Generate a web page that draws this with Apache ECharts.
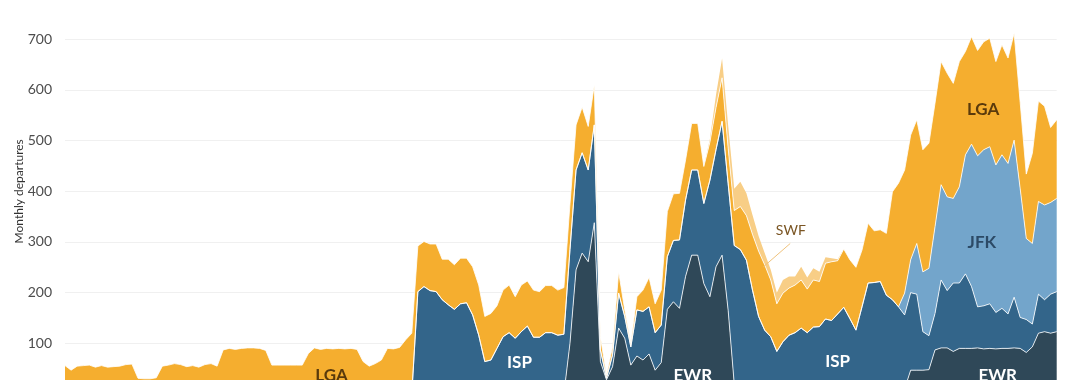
<!DOCTYPE html>
<html><head><meta charset="utf-8">
<script src="https://cdn.jsdelivr.net/npm/echarts@6/dist/echarts.min.js"></script>
<style>html,body{margin:0;padding:0;background:#fff}#c{width:1080px;height:380px}</style>
</head><body><div id="c"></div>
<script>
// monthly departures per destination airport (164 months)
const EWR = [0,0,0,0,0,0,0,0,0,0, 0,0,0,0,0,0,0,0,0,0, 0,0,0,0,0,0,0,0,0,0, 0,0,0,0,0,0,0,0,0,0,
  0,0,0,0,0,0,0,0,0,0, 0,0,0,0,0,0,0,0,0,0, 0,0,0,0,0,0,0,0,0,0, 0,0,0,0,0,0,0,0,0,0, 0,0,0,
  100,245,278,261,338,64,28,54,130,110,57,75,67,79,47,62,167,182,169,232,274,274,218,192,251,274,165,20,
  0,0,0,0,0,0,0,0,0,0, 0,0,0,0,0,0,0,0,0,0, 0,0,0,0,0,0,0,
  10,47,47,47,48,87,91,91,84,90,90,90,91,89,90,89,90,90,91,90,82,93,120,123,120,123];
const ISP = [0,0,0,0,0,0,0,0,0,0, 0,0,0,0,0,0,0,0,0,0, 0,0,0,0,0,0,0,0,0,0, 0,0,0,0,0,0,0,0,0,0,
  0,0,0,0,0,0,0,0,0,0, 0,0,0,0,0,0,0,0,
  202,212,204,202,186,176,167,178,180,156,116,64,67,90,113,121,110,123,134,112,112,121,121,116,118,
  185,197,198,181,193,23,3,23,69,43,36,91,96,93,74,74,104,121,135,151,168,168,158,230,231,264,250,273,
  285,264,205,153,126,113,84,103,116,121,130,121,132,133,148,145,158,171,149,126,172,219,220,222,195,186,172,
  146,153,150,76,67,72,134,113,135,129,147,122,81,85,88,72,79,68,100,61,65,45,77,63,77,79];
const JFK = [0,0,0,0,0,0,0,0,0,0, 0,0,0,0,0,0,0,0,0,0, 0,0,0,0,0,0,0,0,0,0, 0,0,0,0,0,0,0,0,0,0,
  0,0,0,0,0,0,0,0,0,0, 0,0,0,0,0,0,0,0,0,0, 0,0,0,0,0,0,0,0,0,0, 0,0,0,0,0,0,0,0,0,0,
  0,0,0,0,0,0,0,0,0,0, 0,0,0,0,0,0,0,0,0,0, 0,0,0,0,0,0,0,0,0,0, 0,0,0,0,0,0,0,0,0,0,
  0,0,0,0,0,0,0,0,0,0, 0,0,0,0,0,0,0,0,
  43,65,100,118,133,171,188,185,167,190,235,281,298,308,310,291,303,297,310,254,160,159,183,187,181,184];
const LGA = [56,47,55,56,57,53,56,53,54,55,58,59,31,30,30,32,55,57,60,58,54,56,53,58,60,55,87,
  90,88,90,91,91,90,86,57,57,57,57,57,57,80,91,88,90,89,90,89,90,88,64,55,60,67,90,89,92,107,120,
  90,89,92,94,80,90,88,90,88,95,99,89,92,84,92,94,82,92,89,93,90,93,93,89,92,
  90,89,90,86,79,26,6,16,42,13,7,26,42,58,57,69,89,92,92,79,92,92,73,75,83,86,70,69,
  85,88,110,129,129,112,94,96,93,94,95,86,93,89,110,116,105,115,116,124,112,118,102,102,122,213,244,
  243,246,244,241,247,244,243,244,227,247,204,212,208,213,214,204,217,208,211,170,127,178,198,195,148,155];
const SWF = [0,0,0,0,0,0,0,0,0,0, 0,0,0,0,0,0,0,0,0,0, 0,0,0,0,0,0,0,0,0,0, 0,0,0,0,0,0,0,0,0,0,
  0,0,0,0,0,0,0,0,0,0, 0,0,0,0,0,0,0,0,0,0, 0,0,0,0,0,0,0,0,0,0, 0,0,0,0,0,0,0,0,0,0,
  0,0,0,0,0,0,0,0,0,0, 0,0,0,0,0,0,0,0,0,0, 0,0,0,0,0,0,
  6,25,38,45,43,49,44,38,30,23,20,22,26,23,17,26,23,23,19,12,7,3,
  0,0,0,0,0,0,0,0,0,0, 0,0,0,0,0,0,0,0,0,0, 0,0,0,0,0,0,0,0,0,0, 0,0,0,0,0,0];
const months = EWR.map((_, i) => String(i + 1));
const yTicks = [0, 100, 200, 300, 400, 500, 600, 700, 800];

// in-chart labels: [text, month index, value, colour, size, weight]
const areaLabels = [
  ['LGA', 43.8, 37, '#5a3a0c', 17, 'bold'],
  ['ISP', 74.7, 62, '#ffffff', 17, 'bold'],
  ['EWR', 103.2, 37, '#ffffff', 17, 'bold'],
  ['ISP', 127, 65, '#ffffff', 17, 'bold'],
  ['EWR', 153.3, 37, '#ffffff', 17, 'bold'],
  ['LGA', 150.9, 561, '#5a3a0c', 17, 'bold'],
  ['JFK', 150.7, 298, '#2c4a66', 17, 'bold'],
  ['SWF', 119.3, 322, '#7a5523', 14, 'normal']
];
const swfLeader = [[119.2, 297], [114.8, 251]];

const chart = echarts.init(document.getElementById('c'), null, {renderer: 'canvas'});
const mk = (name, data, color, lw) => ({
  name, type: 'line', stack: 'total', data, symbol: 'none', showSymbol: false, smooth: false,
  lineStyle: {width: lw, color: 'rgba(255,255,255,0.8)'},
  areaStyle: {color: color, opacity: 1},
  itemStyle: {color: color},
  emphasis: {disabled: true}, silent: true
});
chart.setOption({
  animation: false,
  textStyle: {fontFamily: 'Lato'},
  grid: {left: 65, right: 23.3, top: -11.4, bottom: -14, outerBoundsMode: 'none', containLabel: false},
  xAxis: {type: 'category', data: months, boundaryGap: false,
    axisLine: {show: false}, axisTick: {show: false}, axisLabel: {show: false}, splitLine: {show: false}},
  yAxis: {type: 'value', min: yTicks[0], max: yTicks[yTicks.length - 1], interval: 100,
    name: 'Monthly departures', nameLocation: 'middle', nameGap: 40, nameRotate: 90, nameMoveOverlap: false,
    nameTextStyle: {fontFamily: 'Lato', fontSize: 12, color: '#333'},
    axisLine: {show: false}, axisTick: {show: false},
    axisLabel: {fontFamily: 'Lato', fontSize: 14, color: '#4d4d4d', margin: 13, showMaxLabel: false},
    splitLine: {lineStyle: {color: '#f0f0f0', width: 1}}},
  series: [
    mk('EWR', EWR, '#2F4858', 1),
    mk('ISP', ISP, '#33658A', 1),
    mk('JFK', JFK, '#73A5CB', 1),
    mk('LGA', LGA, '#F5AE2F', 1),
    mk('SWF', SWF, '#F8CE86', 0)
  ]
});

function toPx(idx, val) {
  const i0 = Math.floor(idx), i1 = i0 + 1, f = idx - i0;
  const a = chart.convertToPixel({xAxisIndex: 0, yAxisIndex: 0}, [i0, val]);
  const b = chart.convertToPixel({xAxisIndex: 0, yAxisIndex: 0}, [i1, val]);
  return [a[0] + (b[0] - a[0]) * f, a[1]];
}
const g = areaLabels.map(l => {
  const p = toPx(l[1], l[2]);
  return {type: 'text', x: p[0], y: p[1], silent: true, z: 100,
    style: {text: l[0], fill: l[3], fontSize: l[4], fontWeight: l[5], fontFamily: 'Lato',
      textAlign: 'center', textVerticalAlign: 'middle'}};
});
const p1 = toPx(swfLeader[0][0], swfLeader[0][1]), p2 = toPx(swfLeader[1][0], swfLeader[1][1]);
g.push({type: 'line', silent: true, z: 99,
  shape: {x1: p1[0], y1: p1[1], x2: p2[0], y2: p2[1]},
  style: {stroke: '#efc27c', lineWidth: 1}});
chart.setOption({graphic: g});
</script></body></html>
